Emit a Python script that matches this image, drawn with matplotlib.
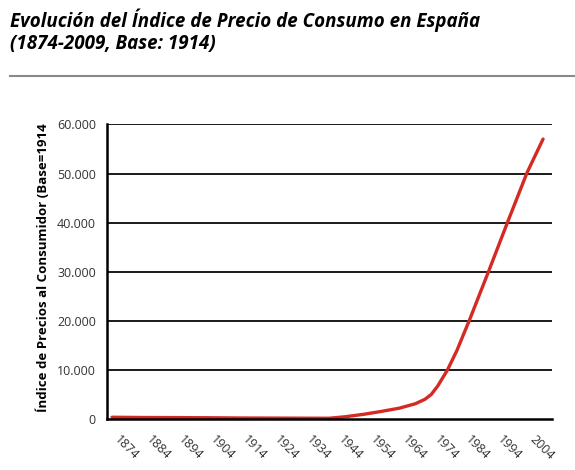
import matplotlib
matplotlib.use("Agg")
import matplotlib.pyplot as plt
from matplotlib.lines import Line2D

# CPI Spain, base 1914
years = [1874, 1884, 1894, 1904, 1914, 1924, 1934, 1942, 1947, 1953, 1958,
         1964, 1969, 1972, 1974, 1976, 1979, 1982, 1986, 1992, 1998, 2004, 2009]
cpi = [450, 400, 380, 350, 300, 280, 260, 250, 550, 1070, 1600,
       2300, 3200, 4100, 5100, 6800, 10000, 14000, 20300, 30200, 40300, 50200, 57000]
tick_years = list(range(1874, 2005, 10))
y_ticks = [0, 10000, 20000, 30000, 40000, 50000, 60000]
y_tick_labels = ["0", "10.000", "20.000", "30.000", "40.000", "50.000", "60.000"]

TITLE = "Evolución del Índice de Precio de Consumo en España\n(1874-2009, Base: 1914)"
YLABEL = "Índice de Precios al Consumidor (Base=1914"

plt.rcParams["font.family"] = ["Open Sans", "DejaVu Sans"]

fig = plt.figure(figsize=(5.75, 4.7), dpi=100)
ax = fig.add_axes([0.186, 0.1075, 0.774, 0.628])

for v in y_ticks[1:]:
    ax.axhline(v, color="#1a1a1a", lw=1.4, zorder=1)
ax.plot(years, cpi, color="#d42a24", lw=2.4, solid_capstyle="round",
        solid_joinstyle="round", zorder=3)

ax.set_xlim(1872.4, 2011.8)
ax.set_ylim(0, 60000)
ax.set_yticks(y_ticks)
ax.set_yticklabels(y_tick_labels, fontsize=9, color="#333333")
ax.set_xticks(tick_years)
ax.set_xticklabels([str(y) for y in tick_years], rotation=-45, ha="left",
                   va="top", fontsize=9, color="#333333")
ax.tick_params(length=0, pad=8)
ax.tick_params(axis="x", pad=10)

for s in ("top", "right"):
    ax.spines[s].set_visible(False)
ax.spines["left"].set_linewidth(1.8)
ax.spines["bottom"].set_linewidth(1.8)
ax.spines["bottom"].set_zorder(4)

fig.text(43 / 575, 1 - 412 / 470, YLABEL, rotation=90,
         fontsize=9.5, fontweight="bold", ha="center", va="bottom")

fig.text(10 / 575, 1 - 9 / 470, TITLE, fontsize=13.5, fontweight="bold",
         fontstyle="italic", ha="left", va="top", linespacing=1.1)
fig.add_artist(Line2D([10 / 575, 1.0], [1 - 76 / 470] * 2, color="#8a8a8a",
                      lw=1.5, transform=fig.transFigure))

fig.savefig("out.png", dpi=100)
